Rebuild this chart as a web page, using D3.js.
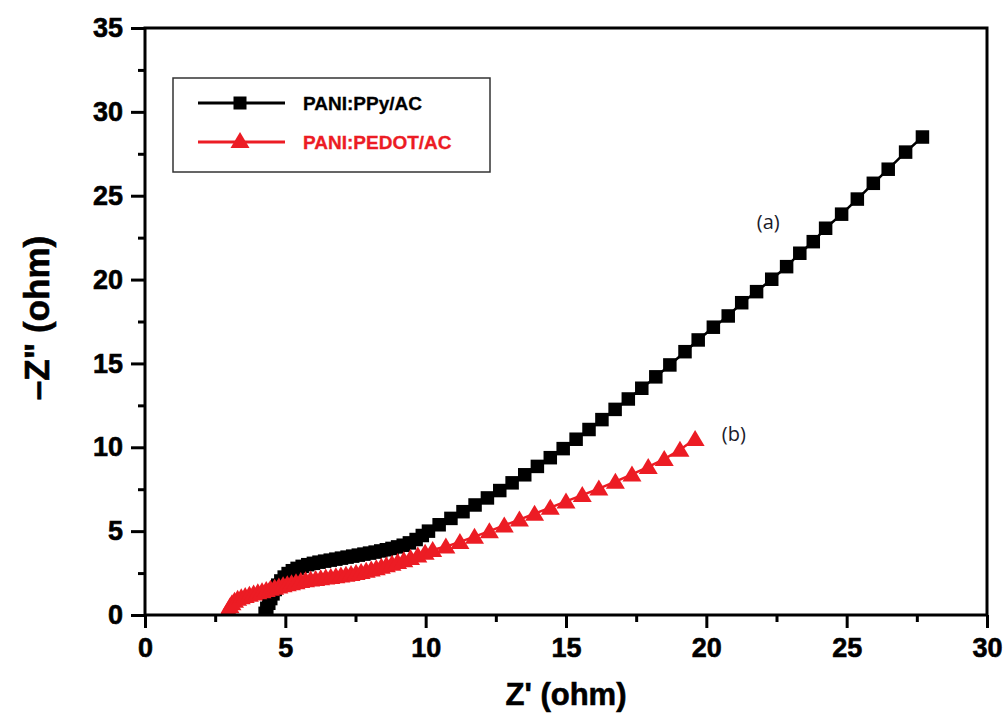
<!DOCTYPE html>
<html>
<head>
<meta charset="utf-8">
<script src="https://cdn.jsdelivr.net/npm/d3@7"></script>
<style>
  html, body { margin: 0; padding: 0; background: #ffffff; }
  svg { display: block; }
</style>
</head>
<body>
<script>
// Nyquist plot data: real part Z' and negative imaginary part -Z'' (ohm)
const seriesNames = ["PANI:PPy/AC", "PANI:PEDOT/AC"];
const curveLabels = ["(a)", "(b)"];

const ppyZre = [4.28, 4.34, 4.41, 4.48, 4.56, 4.64, 4.73, 4.84, 4.96, 5.10, 5.25, 5.42, 5.60, 5.80, 6.00,
  6.20, 6.40, 6.60, 6.80, 7.00, 7.20, 7.40, 7.60, 7.80, 8.00, 8.20, 8.40, 8.60, 8.80, 9.00, 9.20, 9.42,
  9.66, 9.88, 10.10, 10.48, 10.90, 11.33, 11.76, 12.20, 12.64, 13.08, 13.53, 13.98, 14.44, 14.90, 15.36,
  15.82, 16.28, 16.75, 17.22, 17.70, 18.20, 18.70, 19.24, 19.71, 20.25, 20.78, 21.26, 21.79, 22.33,
  22.86, 23.33, 23.81, 24.25, 24.82, 25.38, 25.95, 26.48, 27.10, 27.70];
const ppyZim = [0.10, 0.40, 0.70, 0.98, 1.26, 1.52, 1.78, 2.03, 2.26, 2.47, 2.64, 2.78, 2.90, 3.00, 3.08,
  3.15, 3.21, 3.27, 3.33, 3.39, 3.45, 3.51, 3.57, 3.63, 3.69, 3.75, 3.82, 3.89, 3.97, 4.06, 4.16, 4.30,
  4.50, 4.74, 5.00, 5.38, 5.76, 6.16, 6.56, 6.98, 7.42, 7.88, 8.36, 8.86, 9.38, 9.92, 10.48,
  11.06, 11.65, 12.26, 12.88, 13.52, 14.20, 14.91, 15.70, 16.40, 17.16, 17.83, 18.62, 19.28, 20.02,
  20.77, 21.57, 22.26, 23.06, 23.90, 24.80, 25.74, 26.58, 27.60, 28.50];

const pedotZre = [2.92, 2.97, 3.03, 3.10, 3.19, 3.30, 3.43, 3.57, 3.72, 3.87, 4.02, 4.17, 4.32, 4.47, 4.62,
  4.77, 4.92, 5.07, 5.22, 5.38, 5.55, 5.72, 5.90, 6.08, 6.26, 6.44, 6.62, 6.80, 6.98, 7.16, 7.34, 7.52,
  7.70, 7.88, 8.06, 8.24, 8.42, 8.60, 8.80, 9.00, 9.22, 9.46, 9.72, 9.98, 10.25, 10.72, 11.22, 11.74,
  12.27, 12.80, 13.34, 13.88, 14.44, 15.00, 15.58, 16.17, 16.76, 17.35, 17.93, 18.50, 19.06, 19.60];
const pedotZim = [0.08, 0.30, 0.52, 0.70, 0.85, 0.97, 1.06, 1.14, 1.21, 1.28, 1.35, 1.42, 1.49, 1.56, 1.63,
  1.70, 1.77, 1.84, 1.90, 1.96, 2.02, 2.07, 2.11, 2.15, 2.19, 2.23, 2.27, 2.31, 2.35, 2.40, 2.45, 2.51,
  2.57, 2.64, 2.71, 2.79, 2.87, 2.96, 3.06, 3.16, 3.27, 3.40, 3.55, 3.71, 3.88, 4.08, 4.36, 4.67,
  5.00, 5.34, 5.69, 6.04, 6.40, 6.77, 7.15, 7.54, 7.95, 8.38, 8.83, 9.30, 9.85, 10.50];

const xTicks = [0, 5, 10, 15, 20, 25, 30];
const yTicks = [0, 5, 10, 15, 20, 25, 30, 35];
const xMinorTicks = [2.5, 7.5, 12.5, 17.5, 22.5, 27.5];
const yMinorTicks = [2.5, 7.5, 12.5, 17.5, 22.5, 27.5, 32.5];

const W = 1006, H = 713;
const margin = { left: 145, top: 28, right: W - 987, bottom: H - 615 };
const iw = W - margin.left - margin.right;
const ih = H - margin.top - margin.bottom;

const black = "#000000";
const red = "#ec1c24";
const tickFont = "'Liberation Sans', Arial, sans-serif";

const svg = d3.select("body").append("svg")
  .attr("width", W).attr("height", H);

svg.append("rect").attr("width", W).attr("height", H).attr("fill", "#ffffff");

const x = d3.scaleLinear().domain([0, 30]).range([0, iw]);
const y = d3.scaleLinear().domain([0, 35]).range([ih, 0]);

const g = svg.append("g").attr("transform", `translate(${margin.left},${margin.top})`);

g.append("clipPath").attr("id", "plotClip")
  .append("rect").attr("x", 0).attr("y", 0).attr("width", iw).attr("height", ih);

// Axes: major ticks with labels, minor ticks without
function styleAxis(sel) {
  sel.select(".domain").remove();
  sel.selectAll(".tick line").attr("stroke", black).attr("stroke-width", 3);
  sel.selectAll(".tick text")
    .attr("fill", black)
    .attr("stroke", black).attr("stroke-width", 0.6)
    .style("font-family", tickFont)
    .style("font-weight", "bold")
    .style("font-size", "27px");
}

g.append("g").attr("transform", `translate(0,${ih})`)
  .call(d3.axisBottom(x).tickValues(xTicks).tickFormat(d3.format("d")).tickSize(13).tickPadding(10))
  .call(styleAxis);
g.append("g").attr("transform", `translate(0,${ih})`)
  .call(d3.axisBottom(x).tickValues(xMinorTicks).tickFormat("").tickSize(7))
  .call(styleAxis);

g.append("g")
  .call(d3.axisLeft(y).tickValues(yTicks).tickFormat(d3.format("d")).tickSize(14).tickPadding(8))
  .call(styleAxis);
g.append("g")
  .call(d3.axisLeft(y).tickValues(yMinorTicks).tickFormat("").tickSize(7))
  .call(styleAxis);

// Series
const ppy = ppyZre.map((v, i) => [v, ppyZim[i]]);
const pedot = pedotZre.map((v, i) => [v, pedotZim[i]]);

const line = d3.line().x(d => x(d[0])).y(d => y(d[1]));
const triPath = "M0,-9L9.5,7L-9.5,7Z";
const sq = 13.5;

const plot = g.append("g").attr("clip-path", "url(#plotClip)");

plot.append("path").datum(ppy)
  .attr("d", line).attr("fill", "none").attr("stroke", black).attr("stroke-width", 2.5);
plot.append("g").selectAll("rect").data(ppy).join("rect")
  .attr("x", d => x(d[0]) - sq / 2).attr("y", d => y(d[1]) - sq / 2)
  .attr("width", sq).attr("height", sq).attr("fill", black);

plot.append("path").datum(pedot)
  .attr("d", line).attr("fill", "none").attr("stroke", red).attr("stroke-width", 2.5);
plot.append("g").selectAll("path").data(pedot).join("path")
  .attr("d", triPath)
  .attr("transform", d => `translate(${x(d[0])},${y(d[1])})`)
  .attr("fill", red);

// Frame
g.append("rect").attr("x", 0).attr("y", 0).attr("width", iw).attr("height", ih)
  .attr("fill", "none").attr("stroke", black).attr("stroke-width", 3);

// Curve labels
const labelFont = "'Open Sans', 'Noto Sans', sans-serif";
g.append("text").attr("x", x(21.8)).attr("y", y(23.0))
  .attr("fill", "#1b1b2b").style("font-family", labelFont).style("font-size", "20px")
  .text(curveLabels[0]);
g.append("text").attr("x", x(20.55)).attr("y", y(10.35))
  .attr("fill", "#1b1b2b").style("font-family", labelFont).style("font-size", "20px")
  .text(curveLabels[1]);

// Legend
const legend = svg.append("g").attr("transform", "translate(173,78)");
legend.append("rect").attr("width", 317).attr("height", 94)
  .attr("fill", "#ffffff").attr("stroke", "#333333").attr("stroke-width", 1.5);
const rows = [
  { name: seriesNames[0], color: black, kind: "square", y: 25 },
  { name: seriesNames[1], color: red, kind: "triangle", y: 64 }
];
rows.forEach(r => {
  legend.append("line").attr("x1", 25).attr("x2", 112).attr("y1", r.y).attr("y2", r.y)
    .attr("stroke", r.color).attr("stroke-width", 3);
  if (r.kind === "square") {
    legend.append("rect").attr("x", 67 - 6.5).attr("y", r.y - 6.5)
      .attr("width", 13).attr("height", 13).attr("fill", r.color);
  } else {
    legend.append("path").attr("d", triPath)
      .attr("transform", `translate(67,${r.y - 1})`).attr("fill", r.color);
  }
  legend.append("text").attr("x", 130).attr("y", r.y + 7)
    .attr("fill", r.color).attr("stroke", r.color).attr("stroke-width", 0.3)
    .style("font-family", tickFont).style("font-weight", "bold")
    .style("font-size", "19px").text(r.name);
});

// Axis titles
svg.append("text").attr("x", margin.left + iw / 2).attr("y", 705)
  .attr("text-anchor", "middle").attr("fill", black)
  .attr("stroke", black).attr("stroke-width", 0.6)
  .style("font-family", tickFont).style("font-weight", "bold").style("font-size", "31px")
  .text("Z' (ohm)");
svg.append("text")
  .attr("transform", `translate(49,318) rotate(-90)`)
  .attr("text-anchor", "middle").attr("fill", black)
  .attr("stroke", black).attr("stroke-width", 0.6)
  .style("font-family", tickFont).style("font-weight", "bold").style("font-size", "35px")
  .text("\u2013Z\" (ohm)");
</script>
</body>
</html>
